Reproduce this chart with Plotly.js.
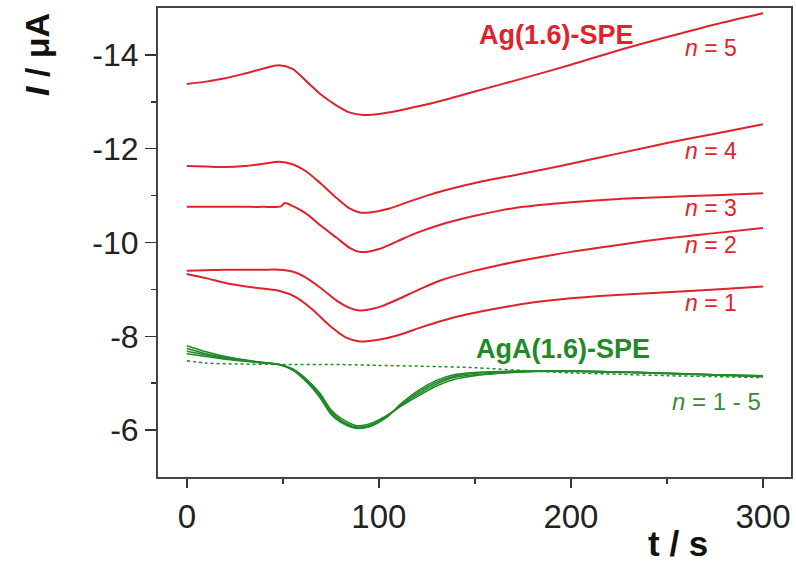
<!DOCTYPE html>
<html>
<head>
<meta charset="utf-8">
<script src="https://cdn.plot.ly/plotly-3.0.1.min.js"></script>
<style>html,body{margin:0;padding:0;background:#fff}#chart{width:796px;height:567px}</style>
</head>
<body>
<div id="chart"></div>
<script>
// ---- Data (t in s, I in µA) ----
const t_n5 = [0,10,20,30,40,48,55,62,70,78,85,92,100,110,120,135,150,175,200,225,250,275,300];
const ag_n5 = [-13.38,-13.43,-13.50,-13.60,-13.71,-13.78,-13.70,-13.45,-13.15,-12.92,-12.77,-12.72,-12.74,-12.81,-12.90,-13.05,-13.22,-13.50,-13.79,-14.10,-14.38,-14.65,-14.89];

const t_n4 = [0,10,20,30,40,48,55,62,70,78,85,90,95,105,115,125,135,150,175,200,225,250,275,300];
const ag_n4 = [-11.63,-11.62,-11.61,-11.63,-11.68,-11.72,-11.67,-11.52,-11.25,-10.95,-10.72,-10.64,-10.64,-10.72,-10.86,-11.00,-11.12,-11.27,-11.47,-11.68,-11.90,-12.12,-12.32,-12.52];

const t_n3 = [0,10,20,30,40,49,51,55,62,70,78,85,90,95,100,105,112,120,132,150,163,175,200,225,250,275,300];
const ag_n3 = [-10.76,-10.76,-10.76,-10.76,-10.76,-10.77,-10.84,-10.78,-10.62,-10.35,-10.10,-9.88,-9.80,-9.81,-9.86,-9.94,-10.07,-10.21,-10.38,-10.57,-10.68,-10.76,-10.86,-10.93,-10.97,-11.01,-11.05];

const t_n2 = [0,10,20,30,40,48,55,62,70,78,85,90,95,102,110,120,132,150,163,175,200,225,250,275,300];
const ag_n2 = [-9.40,-9.41,-9.42,-9.42,-9.42,-9.42,-9.38,-9.25,-9.02,-8.76,-8.60,-8.55,-8.57,-8.65,-8.79,-8.98,-9.19,-9.40,-9.52,-9.62,-9.80,-9.95,-10.09,-10.20,-10.31];

const t_n1 = [0,10,22,35,48,57,66,74,83,90,95,105,112,122,132,146,165,180,200,215,250,275,300];
const ag_n1 = [-9.33,-9.24,-9.12,-9.04,-8.97,-8.83,-8.55,-8.24,-7.97,-7.89,-7.90,-7.97,-8.05,-8.19,-8.32,-8.47,-8.62,-8.72,-8.81,-8.86,-8.94,-9.00,-9.06];

const t_aga = [0,10,20,30,40,48,55,62,69,75,80,88,95,104,112,121,130,139,150,163,180,200,225,250,275,300];
const aga_a = [-7.80,-7.67,-7.57,-7.50,-7.44,-7.40,-7.31,-7.10,-6.80,-6.44,-6.26,-6.10,-6.13,-6.31,-6.52,-6.74,-6.94,-7.08,-7.16,-7.21,-7.25,-7.26,-7.24,-7.21,-7.18,-7.16];
const aga_b = [-7.74,-7.63,-7.55,-7.49,-7.44,-7.40,-7.30,-7.08,-6.77,-6.40,-6.22,-6.07,-6.10,-6.30,-6.54,-6.78,-6.98,-7.12,-7.18,-7.22,-7.25,-7.26,-7.24,-7.21,-7.18,-7.16];
const aga_c = [-7.68,-7.60,-7.53,-7.48,-7.43,-7.40,-7.29,-7.06,-6.74,-6.37,-6.19,-6.05,-6.08,-6.28,-6.56,-6.82,-7.02,-7.15,-7.21,-7.24,-7.26,-7.26,-7.24,-7.21,-7.18,-7.15];
const aga_d = [-7.63,-7.57,-7.51,-7.47,-7.43,-7.40,-7.28,-7.04,-6.71,-6.34,-6.17,-6.04,-6.07,-6.27,-6.58,-6.86,-7.06,-7.18,-7.23,-7.25,-7.26,-7.25,-7.23,-7.20,-7.17,-7.14];

const t_aga1 = [0,10,25,50,75,100,125,150,175,200,225,250,275,300];
const aga_n1 = [-7.48,-7.43,-7.41,-7.40,-7.40,-7.38,-7.36,-7.33,-7.27,-7.22,-7.19,-7.16,-7.14,-7.12];

const xTicks = [0,100,200,300];
const xTickText = ['0','100','200','300'];
const xMinor = [50,150,250];
const yTicks = [-14,-12,-10,-8,-6];
const yTickText = ['-14','-12','-10','-8','-6'];
const yMinor = [-13,-11,-9,-7];

// ---- Styling ----
const RED = '#e0222b';
const GREEN = '#1f8a27';
const FONT = 'Liberation Sans, Arial, sans-serif';

function redTrace(x, y){ return {x:x, y:y, type:'scatter', mode:'lines', line:{color:RED, width:2, shape:'spline', smoothing:0.8}, hoverinfo:'skip'}; }
function greenTrace(x, y, dash){ return {x:x, y:y, type:'scatter', mode:'lines', line:{color:GREEN, width:1.5, shape:'spline', smoothing:0.8, dash:dash||'solid'}, hoverinfo:'skip'}; }

const data = [
  redTrace(t_n5, ag_n5), redTrace(t_n4, ag_n4), redTrace(t_n3, ag_n3),
  redTrace(t_n2, ag_n2), redTrace(t_n1, ag_n1),
  greenTrace(t_aga1, aga_n1, 'dot'),
  greenTrace(t_aga, aga_a), greenTrace(t_aga, aga_b), greenTrace(t_aga, aga_c), greenTrace(t_aga, aga_d)
];

function ann(text, x, y, color, size){
  return {text:text, x:x, y:y, xref:'x', yref:'y', showarrow:false,
    font:{family:FONT, size:size, color:color}, xanchor:'center', yanchor:'middle'};
}

const layout = {
  width:796, height:567,
  margin:{l:158, r:5, t:8, b:90},
  paper_bgcolor:'#fff', plot_bgcolor:'#fff',
  showlegend:false,
  xaxis:{
    range:[-15, 314.6], tickmode:'array', tickvals:xTicks, ticktext:xTickText,
    ticks:'outside', ticklen:9, tickwidth:1.5, tickcolor:'#333',
    minor:{tickmode:'array', tickvals:xMinor, ticks:'outside', ticklen:5, tickwidth:1.5, tickcolor:'#333'},
    showline:true, linecolor:'#444', linewidth:2, mirror:true,
    showgrid:false, zeroline:false,
    tickfont:{family:FONT, size:33, color:'#222'}
  },
  yaxis:{
    range:[-5, -15], tickmode:'array', tickvals:yTicks, ticktext:yTickText,
    ticks:'outside', ticklen:11, tickwidth:1.5, tickcolor:'#333',
    minor:{tickmode:'array', tickvals:yMinor, ticks:'outside', ticklen:5, tickwidth:1.5, tickcolor:'#333'},
    showline:true, linecolor:'#444', linewidth:2, mirror:true,
    showgrid:false, zeroline:false,
    tickfont:{family:FONT, size:32, color:'#222'}
  },
  annotations:[
    ann('<b>Ag(1.6)-SPE</b>', 192.7, -14.43, RED, 27),
    ann('<i>n</i> = 5', 272.9, -14.15, RED, 23),
    ann('<i>n</i> = 4', 272.9, -11.95, RED, 23),
    ann('<i>n</i> = 3', 272.9, -10.73, RED, 23),
    ann('<i>n</i> = 2', 272.9, -9.94, RED, 23),
    ann('<i>n</i> = 1', 272.9, -8.72, RED, 23),
    ann('<b>AgA(1.6)-SPE</b>', 195.8, -7.73, GREEN, 27),
    ann('<i>n</i> = 1 - 5', 276, -6.62, '#3a8a3a', 24),
    {text:'<b><i>I</i> / μA</b>', xref:'paper', yref:'paper', x:-0.191, y:0.90, showarrow:false,
     textangle:-90, font:{family:FONT, size:34, color:'#111'}, xanchor:'center', yanchor:'middle'},
    {text:'<b>t / s</b>', xref:'paper', yref:'paper', x:0.821, y:-0.142, showarrow:false,
     font:{family:FONT, size:35, color:'#111'}, xanchor:'center', yanchor:'middle'}
  ]
};

Plotly.newPlot('chart', data, layout, {displayModeBar:false, staticPlot:true});
</script>
</body>
</html>
